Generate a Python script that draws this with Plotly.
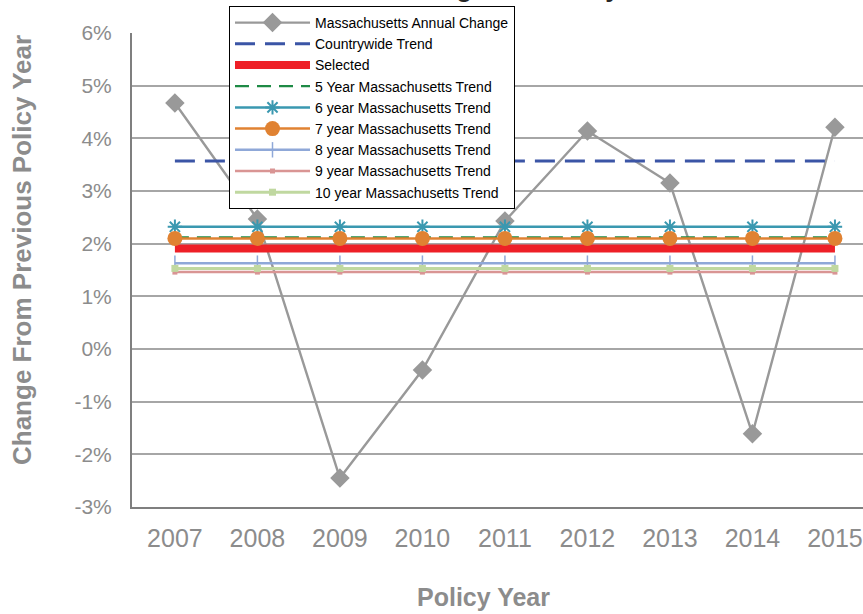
import plotly.graph_objects as go

# Policy years and annual change in Massachusetts
years = [2007, 2008, 2009, 2010, 2011, 2012, 2013, 2014, 2015]
ma_annual_change = [0.0467, 0.0247, -0.0245, -0.0040, 0.0243, 0.0414, 0.0315, -0.0161, 0.0421]

# Flat trend levels drawn across all policy years
countrywide_trend = 0.0357
selected_trend = 0.0191
trend_5yr = 0.0212
trend_6yr = 0.0232
trend_7yr = 0.0210
trend_8yr = 0.0163
trend_9yr = 0.0146
trend_10yr = 0.0153

y_tick_vals = [-0.03, -0.02, -0.01, 0.0, 0.01, 0.02, 0.03, 0.04, 0.05, 0.06]
y_tick_text = ["-3%", "-2%", "-1%", "0%", "1%", "2%", "3%", "4%", "5%", "6%"]

FONT = "Liberation Sans, Arial, sans-serif"
GREY_TEXT = "#8c8c8c"


def flat(v):
    return [v] * len(years)


fig = go.Figure()

fig.add_trace(go.Scatter(
    x=years, y=ma_annual_change, name="Massachusetts Annual Change",
    mode="lines+markers",
    line=dict(color="#999999", width=2.4),
    marker=dict(symbol="diamond", size=15, color="#999999"),
))
fig.add_trace(go.Scatter(
    x=years, y=flat(countrywide_trend), name="Countrywide Trend",
    mode="lines",
    line=dict(color="#3b55a6", width=3, dash="20px,10px"),
))
fig.add_trace(go.Scatter(
    x=years, y=flat(selected_trend), name="Selected",
    mode="lines",
    line=dict(color="#ee2027", width=8),
))
fig.add_trace(go.Scatter(
    x=years, y=flat(trend_5yr), name="5 Year Massachusetts Trend",
    mode="lines",
    line=dict(color="#1e8a45", width=2.2, dash="14px,8px"),
))
fig.add_trace(go.Scatter(
    x=years, y=flat(trend_6yr), name="6 year Massachusetts Trend",
    mode="lines+markers",
    line=dict(color="#3a98b0", width=2.5),
    marker=dict(symbol="asterisk-open", size=12, line=dict(color="#3a98b0", width=2)),
))
fig.add_trace(go.Scatter(
    x=years, y=flat(trend_7yr), name="7 year Massachusetts Trend",
    mode="lines+markers",
    line=dict(color="#e08232", width=2.5),
    marker=dict(symbol="circle", size=15, color="#e08232"),
))
fig.add_trace(go.Scatter(
    x=years, y=flat(trend_8yr), name="8 year Massachusetts Trend",
    mode="lines+markers",
    line=dict(color="#8fa8d8", width=2.5),
    marker=dict(symbol="line-ns-open", size=11, line=dict(color="#8fa8d8", width=1.5)),
))
fig.add_trace(go.Scatter(
    x=years, y=flat(trend_9yr), name="9 year Massachusetts Trend",
    mode="lines+markers",
    line=dict(color="#d99594", width=2.5),
    marker=dict(symbol="square", size=5, color="#d99594"),
))
fig.add_trace(go.Scatter(
    x=years, y=flat(trend_10yr), name="10 year Massachusetts Trend",
    mode="lines+markers",
    line=dict(color="#c0d8a0", width=3),
    marker=dict(symbol="square", size=7, color="#c0d8a0"),
))

W, H = 863, 614
ML, MR, MT, MB = 132, 0, 33, 107
PW = W - ML - MR
PH = H - MT - MB

fig.update_layout(
    width=W, height=H,
    margin=dict(l=ML, r=MR, t=MT, b=MB, pad=0),
    paper_bgcolor="white", plot_bgcolor="white",
    font=dict(family=FONT, color=GREY_TEXT),
    showlegend=True,
    legend=dict(
        x=(229 - ML) / PW, y=1 + (MT - 6) / PH,
        xanchor="left", yanchor="top",
        bgcolor="white", bordercolor="#000000", borderwidth=1,
        font=dict(family=FONT, size=14, color="#000000"),
        tracegroupgap=0, itemwidth=75,
    ),
    xaxis=dict(
        range=[2006.48, 2015.34],
        tickvals=years, ticktext=[str(y) for y in years],
        tickfont=dict(family=FONT, size=25, color=GREY_TEXT),
        showgrid=False, zeroline=False,
        showline=True, linecolor="#7f7f7f", linewidth=2,
        ticks="", ticklabelstandoff=8, ticklabeloverflow="allow",
    ),
    yaxis=dict(
        range=[-0.03, 0.06],
        tickvals=y_tick_vals, ticktext=y_tick_text,
        tickfont=dict(family=FONT, size=21, color=GREY_TEXT),
        showgrid=True, gridcolor="#a6a6a6", gridwidth=2,
        zeroline=False,
        showline=True, linecolor="#7f7f7f", linewidth=2,
        ticks="", ticklabelstandoff=14,
    ),
    annotations=[
        dict(
            text="<b>Annual Change Per Policy Year</b>",
            xref="paper", yref="paper",
            x=(488 - ML) / PW, y=1 + (MT + 12) / PH,
            xanchor="center", yanchor="middle", showarrow=False,
            font=dict(family=FONT, size=26, color="#262626"),
        ),
        dict(
            text="<b>Change From Previous Policy Year</b>",
            xref="paper", yref="paper",
            x=(22 - ML) / PW, y=(MT + PH - 250) / PH,
            xanchor="center", yanchor="middle", textangle=-90, showarrow=False,
            font=dict(family=FONT, size=26, color=GREY_TEXT),
        ),
        dict(
            text="<b>Policy Year</b>",
            xref="paper", yref="paper",
            x=(483 - ML) / PW, y=-(597 - MT - PH) / PH,
            xanchor="center", yanchor="middle", showarrow=False,
            font=dict(family=FONT, size=25, color=GREY_TEXT),
        ),
    ],
)

fig.write_html("out.html")
